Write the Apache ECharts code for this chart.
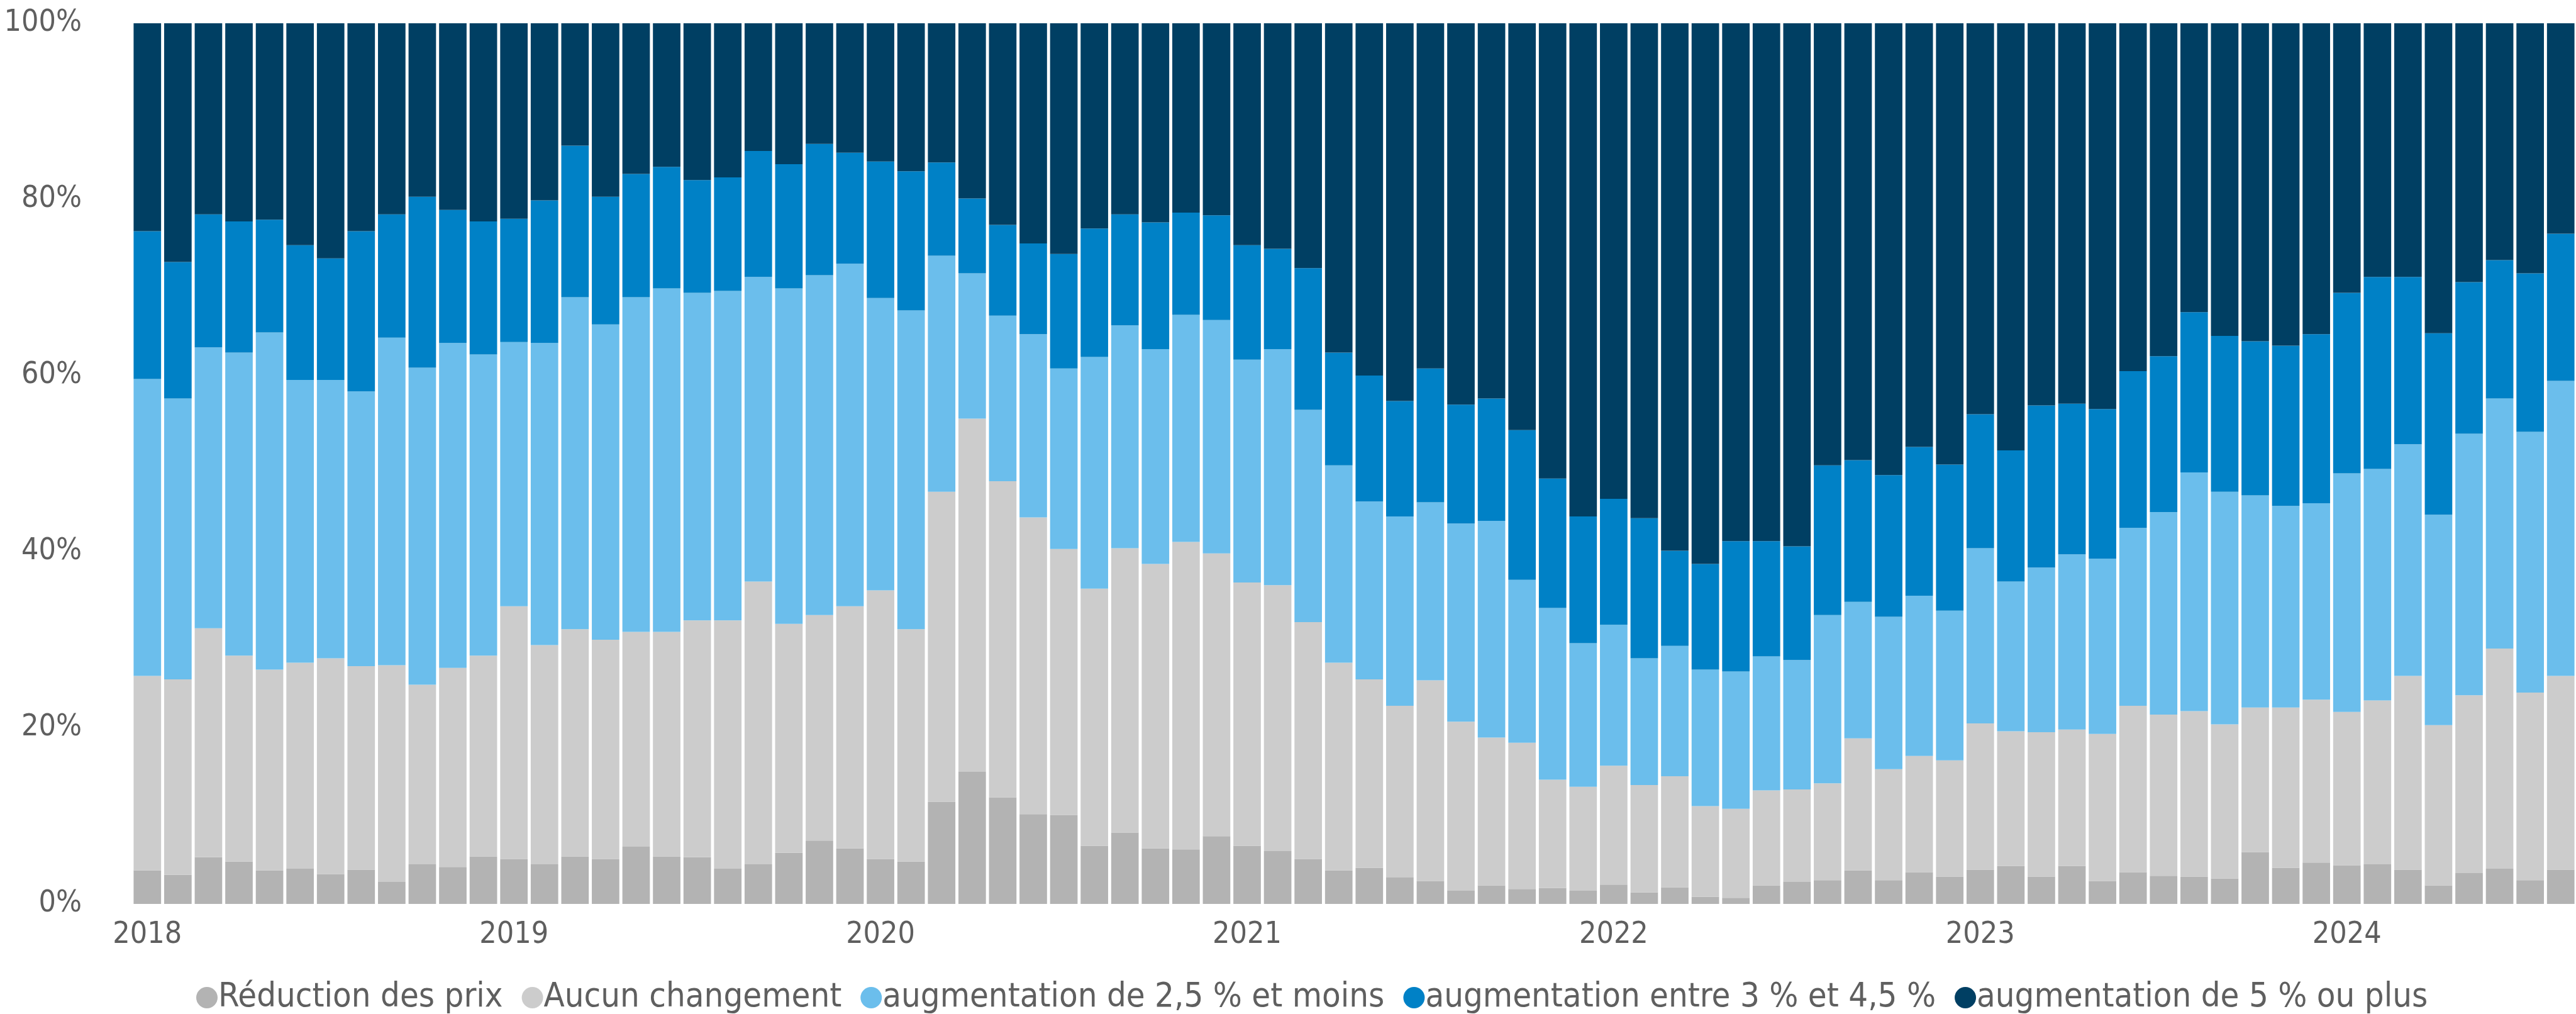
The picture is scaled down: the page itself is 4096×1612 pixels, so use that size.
<!DOCTYPE html>
<html lang="fr">
<head>
    <meta charset="UTF-8">
    <title>Évolution des prix</title>
    <script src="https://cdn.jsdelivr.net/npm/echarts@6/dist/echarts.min.js"></script>
    <style>
        body, html {
            margin: 0;
            padding: 0;
            background: #ffffff;
        }
        #main {
            width: 4096px;
            height: 1612px;
        }
    </style>
</head>
<body>
<div id="main"></div>
<script>
    // mois : janvier 2018 a aout 2024
    const months = [];
    for (let y = 2018; y <= 2024; y++) {
        for (let m = 1; m <= 12; m++) {
            if (y === 2024 && m > 8) break;
            months.push(y + '-' + (m < 10 ? '0' + m : m));
        }
    }

    const seriesNames = [
        'Réduction des prix',
        'Aucun changement',
        'augmentation de 2,5 % et moins',
        'augmentation entre 3 % et 4,5 %',
        'augmentation de 5 % ou plus'
    ];

    const reduction = [
        3.8, 3.3, 5.3, 4.8, 3.8, 4.0, 3.4, 3.9, 2.5, 4.5, 4.2, 5.4,
        5.1, 4.5, 5.4, 5.1, 6.5, 5.4, 5.3, 4.0, 4.5, 5.8, 7.2, 6.3,
        5.1, 4.8, 11.6, 15.0, 12.1, 10.2, 10.1, 6.6, 8.1, 6.3, 6.2, 7.7,
        6.6, 6.0, 5.1, 3.8, 4.1, 3.0, 2.6, 1.5, 2.1, 1.7, 1.8, 1.5,
        2.2, 1.3, 1.9, 0.8, 0.7, 2.1, 2.5, 2.7, 3.8, 2.7, 3.6, 3.1,
        3.9, 4.3, 3.1, 4.3, 2.6, 3.6, 3.2, 3.1, 2.9, 5.9, 4.1, 4.7,
        4.4, 4.5, 3.9, 2.1, 3.5, 4.0, 2.7, 3.9
    ];
    const aucun = [
        22.1, 22.2, 26.0, 23.4, 22.8, 23.4, 24.5, 23.1, 24.6, 20.4, 22.6, 22.8,
        28.7, 24.9, 25.8, 24.9, 24.4, 25.5, 26.9, 28.2, 32.1, 26.0, 25.6, 27.5,
        30.5, 26.4, 35.2, 40.1, 35.9, 33.7, 30.2, 29.2, 32.3, 32.3, 34.9, 32.1,
        29.9, 30.2, 26.9, 23.6, 21.4, 19.5, 22.8, 19.2, 16.8, 16.6, 12.3, 11.8,
        13.5, 12.2, 12.6, 10.3, 10.1, 10.8, 10.5, 11.0, 15.0, 12.6, 13.2, 13.2,
        16.6, 15.3, 16.4, 15.5, 16.7, 18.9, 18.3, 18.8, 17.5, 16.4, 18.2, 18.5,
        17.4, 18.6, 22.0, 18.2, 20.2, 25.0, 21.3, 22.0
    ];
    const hausse25 = [
        33.7, 31.9, 31.9, 34.4, 38.3, 32.1, 31.6, 31.2, 37.2, 36.0, 36.9, 34.2,
        30.0, 34.3, 37.7, 35.8, 38.0, 39.0, 37.2, 37.4, 34.6, 38.1, 38.6, 38.9,
        33.2, 36.2, 26.8, 16.5, 18.8, 20.8, 20.5, 26.3, 25.3, 24.4, 25.8, 26.5,
        25.3, 26.8, 24.1, 22.4, 20.2, 21.5, 20.2, 22.5, 24.6, 18.5, 19.5, 16.3,
        16.0, 14.4, 14.8, 15.5, 15.6, 15.2, 14.7, 19.1, 15.5, 17.3, 18.2, 17.0,
        19.9, 17.0, 18.7, 19.9, 19.9, 20.2, 23.0, 27.1, 26.4, 24.1, 22.9, 22.3,
        27.1, 26.3, 26.3, 23.9, 29.7, 28.4, 29.6, 33.5
    ];
    const hausse345 = [
        16.8, 15.5, 15.1, 14.9, 12.8, 15.3, 13.8, 18.2, 14.0, 19.4, 15.1, 15.1,
        14.0, 16.2, 17.2, 14.5, 14.0, 13.8, 12.8, 12.9, 14.3, 14.1, 14.9, 12.6,
        15.5, 15.8, 10.6, 8.5, 10.3, 10.3, 13.0, 14.6, 12.6, 14.4, 11.6, 11.9,
        13.0, 11.4, 16.1, 12.8, 14.3, 13.1, 15.2, 13.5, 13.9, 17.0, 14.7, 14.4,
        14.3, 15.9, 10.8, 12.0, 14.8, 13.1, 12.9, 17.0, 16.1, 16.1, 16.9, 16.6,
        15.2, 14.9, 18.4, 17.1, 17.0, 17.8, 17.7, 18.2, 17.7, 17.5, 18.2, 19.2,
        20.5, 21.8, 19.0, 20.6, 17.2, 15.7, 18.0, 16.7
    ];
    const hausse5 = [
        23.6, 27.1, 21.7, 22.5, 22.3, 25.2, 26.7, 23.6, 21.7, 19.7, 21.2, 22.5,
        22.2, 20.1, 13.9, 19.7, 17.1, 16.3, 17.8, 17.5, 14.5, 16.0, 13.7, 14.7,
        15.7, 16.8, 15.8, 19.9, 22.9, 25.0, 26.2, 23.3, 21.7, 22.6, 21.5, 21.8,
        25.2, 25.6, 27.8, 37.4, 40.0, 42.9, 39.2, 43.3, 42.6, 46.2, 51.7, 56.0,
        54.0, 56.2, 59.9, 61.4, 58.8, 58.8, 59.4, 50.2, 49.6, 51.3, 48.1, 50.1,
        44.4, 48.5, 43.4, 43.2, 43.8, 39.5, 37.8, 32.8, 35.5, 36.1, 36.6, 35.3,
        30.6, 28.8, 28.8, 35.2, 29.4, 26.9, 28.4, 23.9
    ];

    const colors = ['#b3b3b3', '#cccccc', '#6bbeec', '#0081c6', '#003f63'];
    const values = [reduction, aucun, hausse25, hausse345, hausse5];
    const font = "'DejaVu Sans Condensed', 'DejaVu Sans', sans-serif";

    var chart = echarts.init(document.getElementById('main'));

    var option = {
        animation: false,
        color: colors,
        textStyle: {
            fontFamily: font
        },
        grid: {
            left: 210,
            right: -20,
            top: 37,
            bottom: 175,
            containLabel: false
        },
        legend: {
            data: seriesNames,
            top: 1554,
            left: 307,
            icon: 'circle',
            itemWidth: 34,
            itemHeight: 34,
            itemGap: 30,
            textStyle: {
                fontFamily: font,
                fontSize: 54,
                color: '#5f5f5f',
                padding: [0, 0, 0, -4]
            }
        },
        xAxis: {
            type: 'category',
            data: months,
            axisLine: { show: false },
            axisTick: { show: false },
            axisLabel: {
                interval: 11,
                margin: 26,
                fontSize: 48,
                color: '#5f5f5f',
                fontFamily: font,
                formatter: function (v) {
                    return v.slice(0, 4);
                }
            }
        },
        yAxis: {
            type: 'value',
            min: 0,
            max: 100,
            interval: 20,
            axisLine: { show: false },
            axisTick: { show: false },
            splitLine: { show: false },
            axisLabel: {
                margin: 80,
                fontSize: 48,
                color: '#5f5f5f',
                fontFamily: font,
                formatter: '{value}%'
            }
        },
        series: seriesNames.map(function (name, i) {
            return {
                name: name,
                type: 'bar',
                stack: 'total',
                barCategoryGap: '10%',
                data: values[i],
                itemStyle: { color: colors[i] }
            };
        })
    };

    chart.setOption(option);
</script>
</body>
</html>
